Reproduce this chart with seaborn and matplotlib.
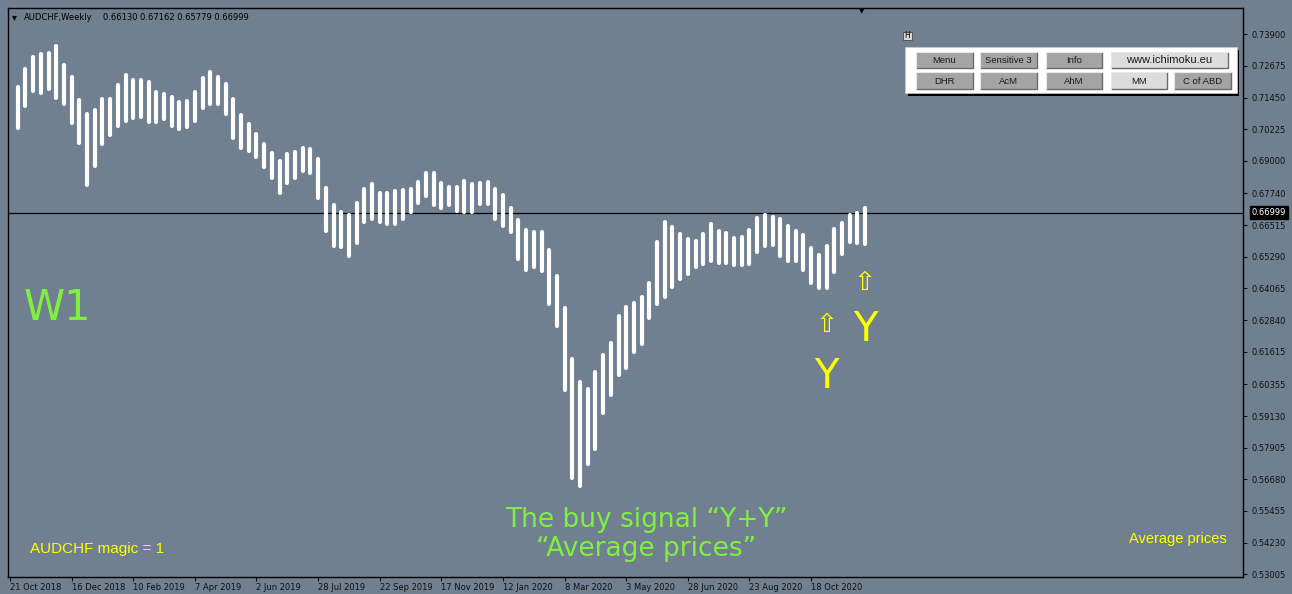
import numpy as np
import pandas as pd
import matplotlib
matplotlib.use("Agg")
import matplotlib.pyplot as plt
import seaborn as sns
from matplotlib.patches import Rectangle

# ---------------- data ----------------
symbol = "AUDCHF"
timeframe = "Weekly"
start_week = "2018-10-21"
last_ohlc = [0.66130, 0.67162, 0.65779, 0.66999]

highs = [0.71861, 0.72557, 0.73021, 0.73138, 0.73176, 0.73447, 0.72712, 0.72248, 0.71358, 0.70816,
         0.70971, 0.71396, 0.71396, 0.71938, 0.72325, 0.72132, 0.72132, 0.72054, 0.71667, 0.71590,
         0.71474, 0.71280, 0.71319, 0.71667, 0.72209, 0.72441, 0.72248, 0.71977, 0.71396, 0.70777,
         0.70429, 0.70042, 0.69655, 0.69307, 0.68997, 0.69268, 0.69346, 0.69500, 0.69462, 0.69075,
         0.67953, 0.67295, 0.67024, 0.66908, 0.67372, 0.67914, 0.68107, 0.67759, 0.67759, 0.67836,
         0.67875, 0.67914, 0.68185, 0.68533, 0.68533, 0.68146, 0.67991, 0.67991, 0.68223, 0.68107,
         0.68146, 0.68185, 0.67914, 0.67682, 0.67179, 0.66714, 0.66327, 0.66250, 0.66250, 0.65554,
         0.64547, 0.63309, 0.61336, 0.60446, 0.60175, 0.60833, 0.61491, 0.61955, 0.63000, 0.63348,
         0.63503, 0.63735, 0.64277, 0.65863, 0.66637, 0.66443, 0.66173, 0.65979, 0.65902, 0.66173,
         0.66560, 0.66289, 0.66211, 0.66018, 0.66057, 0.66327, 0.66792, 0.66908, 0.66830, 0.66753,
         0.66482, 0.66289, 0.66134, 0.65631, 0.65360, 0.65708, 0.66366, 0.66598, 0.66908, 0.66985,
         0.67162]
lows = [0.70274, 0.71125, 0.71706, 0.71629, 0.71783, 0.71435, 0.71203, 0.70468, 0.69694, 0.68069,
        0.68804, 0.69655, 0.70003, 0.70352, 0.70545, 0.70661, 0.70700, 0.70506, 0.70506, 0.70622,
        0.70352, 0.70236, 0.70313, 0.70545, 0.71048, 0.71203, 0.71203, 0.70816, 0.69887, 0.69500,
        0.69384, 0.69152, 0.68765, 0.68340, 0.67759, 0.68146, 0.68340, 0.68610, 0.68533, 0.67566,
        0.66289, 0.65708, 0.65670, 0.65321, 0.65824, 0.66637, 0.66753, 0.66637, 0.66560, 0.66560,
        0.66753, 0.67024, 0.67372, 0.67643, 0.67295, 0.67179, 0.67295, 0.67063, 0.67024, 0.67024,
        0.67333, 0.67333, 0.66753, 0.66482, 0.66250, 0.65205, 0.64780, 0.64896, 0.64741, 0.63464,
        0.62613, 0.60136, 0.56731, 0.56422, 0.57273, 0.57853, 0.59246, 0.59943, 0.60717, 0.60988,
        0.61607, 0.61916, 0.62922, 0.63464, 0.63735, 0.64122, 0.64431, 0.64625, 0.64896, 0.65012,
        0.65128, 0.65050, 0.65050, 0.64973, 0.64973, 0.65012, 0.65476, 0.65708, 0.65747, 0.65321,
        0.65128, 0.65128, 0.64780, 0.64277, 0.64083, 0.64083, 0.64702, 0.65399, 0.65863, 0.65824,
        0.65779]

ytick_values = [0.73900, 0.72675, 0.71450, 0.70225, 0.69000, 0.67740, 0.66515, 0.65290, 0.64065,
                0.62840, 0.61615, 0.60355, 0.59130, 0.57905, 0.56680, 0.55455, 0.54230, 0.53005]
xtick_labels = ["21 Oct 2018", "16 Dec 2018", "10 Feb 2019", "7 Apr 2019", "2 Jun 2019",
                "28 Jul 2019", "22 Sep 2019", "17 Nov 2019", "12 Jan 2020", "8 Mar 2020",
                "3 May 2020", "28 Jun 2020", "23 Aug 2020", "18 Oct 2020"]

signal_bars = [106, 111]
signal_arrow_price = [0.6265, 0.6428]
signal_label_price = [0.6064, 0.6246]

row1_buttons = ["Menu", "Sensitive 3", "Info", "www.ichimoku.eu"]
row2_buttons = ["DHR", "AcM", "AhM", "MM", "C of ABD"]

# ---------------- prep ----------------
n = len(highs)
idx = np.arange(1, n + 1)
df = pd.DataFrame({
    "idx": np.concatenate([idx, idx]),
    "price": np.concatenate([lows, highs]),
})
t0 = pd.Timestamp(start_week)
xtick_pos = [(pd.Timestamp(s) - t0).days / 7 for s in xtick_labels]

BG = "#708090"
GREEN = "#80f040"
YEL = "#ffff00"

sns.set_theme(style="ticks", rc={
    "figure.facecolor": BG, "axes.facecolor": BG, "axes.edgecolor": "black",
    "savefig.facecolor": BG,
})
plt.rcParams["font.family"] = ["DejaVu Sans"]

W, H = 1292, 594
fig = plt.figure(figsize=(W / 100, H / 100), dpi=100)
ax = fig.add_axes([8 / W, 1 - 577 / H, (1243 - 8) / W, (577 - 8) / H])

sns.lineplot(data=df, x="idx", y="price", units="idx", estimator=None, color="white",
             lw=3.0, legend=False, ax=ax)
for ln in ax.get_lines():
    ln.set_solid_capstyle("round")

ax.axhline(last_ohlc[3], color="black", lw=0.9, zorder=1)

ax.set_xlim(-0.26, 160.07)
ax.set_ylim(0.52901, 0.74917)
ax.yaxis.tick_right()
ax.set_yticks(ytick_values)
ax.set_yticklabels([f"{v:.5f}" for v in ytick_values])
ax.set_xticks(xtick_pos)
ax.set_xticklabels(xtick_labels, ha="left")
ax.tick_params(axis="y", direction="out", length=3, width=0.8, pad=3, labelsize=6,
               colors="#111111")
ax.tick_params(axis="x", direction="out", length=3, width=0.8, pad=1.5, labelsize=6,
               colors="#111111")
ax.set_xlabel("")
ax.set_ylabel("")
for s in ax.spines.values():
    s.set_visible(True)
    s.set_color("black")
    s.set_linewidth(1)

# current price label
ax.annotate(f"{last_ohlc[3]:.5f}", xy=(1, last_ohlc[3]), xycoords=("axes fraction", "data"),
            xytext=(6.2, 0), textcoords="offset points", ha="left", va="center",
            fontsize=6, color="white",
            bbox=dict(boxstyle="square,pad=0.25", fc="black", ec="black"))

# signal arrows and labels
for b, pa, pl in zip(signal_bars, signal_arrow_price, signal_label_price):
    ax.text(b, pa, "⇧", color=YEL, fontsize=19, ha="center", va="center")
    ax.text(b, pl, "Y", color=YEL, fontsize=29, ha="center", va="center")

# ---------------- overlay (screen objects) ----------------
ov = fig.add_axes([0, 0, 1, 1], zorder=5)
ov.set_xlim(0, W)
ov.set_ylim(H, 0)
ov.axis("off")
ov.patch.set_alpha(0)

ov.text(12, 17, "▾", fontsize=7, color="black", va="center", ha="left")
ov.text(24, 17, f"{symbol},{timeframe}", fontsize=6, color="black", va="center", ha="left")
ov.text(103, 17, " ".join(f"{v:.5f}" for v in last_ohlc), fontsize=6, color="black",
        va="center", ha="left")
ov.text(862, 11, "▼", fontsize=5, color="black", va="center", ha="center")

ov.text(57, 308, "W1", fontsize=30, color=GREEN, ha="center", va="center")
ov.text(646, 520, "The buy signal “Y+Y”", fontsize=19, color=GREEN, ha="center", va="center")
ov.text(646, 549, "“Average prices”", fontsize=19, color=GREEN, ha="center", va="center")
ov.text(30, 549, f"{symbol} magic = 1", fontsize=11, color=YEL, ha="left", va="center",
        family=["Liberation Sans", "DejaVu Sans"])
ov.text(1227, 539, "Average prices", fontsize=10.5, color=YEL, ha="right", va="center",
        family=["Liberation Sans", "DejaVu Sans"])

# "H" box
ov.add_patch(Rectangle((903, 31.5), 9, 8.5, fc="#d8d8d8", ec="#444444", lw=0.6))
ov.text(907.5, 35.8, "H", fontsize=5.5, color="black", ha="center", va="center")

# panel with shadow
ov.add_patch(Rectangle((908, 49.5), 331, 46.5, fc="black", ec="none"))
ov.add_patch(Rectangle((905, 46.7), 332, 46.6, fc="white", ec="#cccccc", lw=0.5))

row1_x = [(916, 972.7), (980, 1037.3), (1045.7, 1102.3), (1110.7, 1228.3)]
row2_x = [(916, 972.7), (980, 1037.3), (1045.7, 1102.3), (1110.7, 1166.7), (1174, 1231)]
light = {"www.ichimoku.eu", "MM"}


def button(x0, x1, y0, y1, label):
    fc = "#dcdcdc" if label in light else "#a4a4a4"
    ov.add_patch(Rectangle((x0, y0), x1 - x0, y1 - y0, fc=fc, ec="none"))
    ov.plot([x0, x1, x1], [y1, y1, y0], color="#6a6a6a", lw=1.0)
    ov.plot([x0, x0, x1], [y1, y0, y0], color="#e8e8e8", lw=0.8)
    fs = 8.0 if label == "www.ichimoku.eu" else 6.8
    ov.text((x0 + x1) / 2, (y0 + y1) / 2 + 0.5, label, fontsize=fs, color="#1a1a1a",
            ha="center", va="center", family=["Liberation Sans", "DejaVu Sans"])


for (x0, x1), lab in zip(row1_x, row1_buttons):
    button(x0, x1, 51.7, 67.7, lab)
for (x0, x1), lab in zip(row2_x, row2_buttons):
    button(x0, x1, 72.0, 89.0, lab)

fig.savefig("out.png", dpi=100, facecolor=BG)
